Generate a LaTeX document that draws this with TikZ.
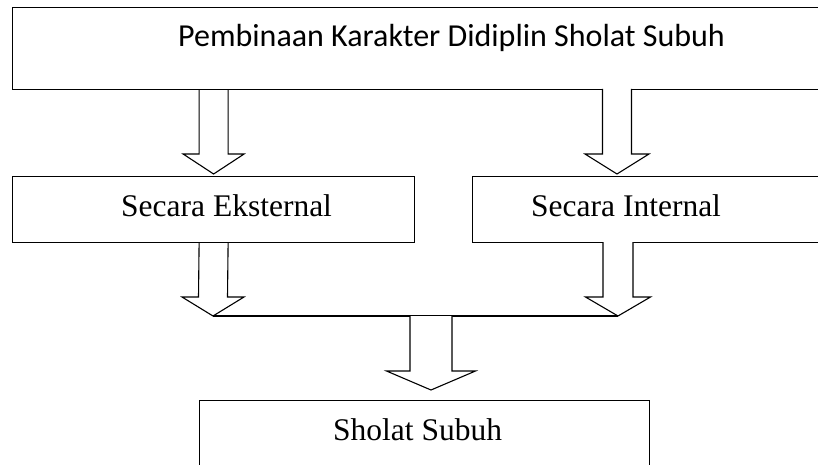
\documentclass[tikz,border=0pt]{standalone}
\usepackage{fontspec}
\setmainfont{Liberation Serif}
\newfontfamily\calibrifont{Carlito}
\usetikzlibrary{calc, positioning}
\tikzset{
    box/.style={draw, line width=1.2pt, rectangle, anchor=north west, inner sep=0pt},
    label/.style={anchor=base west, inner sep=0pt, font=\fontsize{31.5}{36}\selectfont},
    toplabel/.style={anchor=base west, inner sep=0pt, font=\calibrifont\fontsize{32}{38}\selectfont},
    blk/.style={draw, line width=1.1pt, fill=white, line join=miter}
}
% hollow block arrow: from, to, half shaft, half head, head length
\newcommand\blockarrow[5]{%
    \draw[blk] ($(#1)+(-#3,0)$) -- ($(#2)+(-#3,-#5)$) -- ($(#2)+(-#4,-#5)$) -- (#2)
        -- ($(#2)+(#4,-#5)$) -- ($(#2)+(#3,-#5)$) -- ($(#1)+(#3,0)$);}

\begin{document}
\begin{tikzpicture}[x=1pt, y=-1pt]
    \useasboundingbox (0,0) rectangle (818,465);
    \clip (0,0) rectangle (818,465);

    \node (top) [box, minimum width=830pt, minimum height=82pt] at (12,7) {};
    \node (ext) [box, minimum width=402pt, minimum height=66pt] at (12,176) {};
    \node (int) [box, minimum width=380pt, minimum height=66pt] at (472,176) {};
    \node (sholat) [box, minimum width=450pt, minimum height=90pt] at (199,400) {};

    \node (toptext) [toplabel] at (178,47) {Pembinaan Karakter Didiplin Sholat Subuh};
    \node (exttext) [label] at (121,216) {Secara Eksternal};
    \node (inttext) [label] at (531,216) {Secara Internal};
    \node (sholattext) [label] at (333,440) {Sholat Subuh};

    \coordinate (a1s) at (top.south -| ext.north);
    \coordinate (a1e) at ($(ext.north)+(0,-2)$);
    \coordinate (a2s) at (617,89);
    \coordinate (a2e) at (617,174);
    \coordinate (a3s) at (ext.south);
    \coordinate (a3e) at (213,316);
    \coordinate (a4s) at (618,242);
    \coordinate (a4e) at (618,316);
    \coordinate (a5s) at (431,316);
    \coordinate (a5e) at ($(sholat.north -| a5s)+(0,-10)$);

    \blockarrow{a1s}{a1e}{14.5}{30.5}{20}
    \blockarrow{a2s}{a2e}{14.5}{32}{20}
    \blockarrow{a3s}{a3e}{14.5}{31}{19}
    \blockarrow{a4s}{a4e}{15}{32.5}{19}
    \draw[line width=1.2pt] (a3e) -- (a4e);
    \blockarrow{a5s}{a5e}{21}{44.5}{19}
\end{tikzpicture}
\end{document}
